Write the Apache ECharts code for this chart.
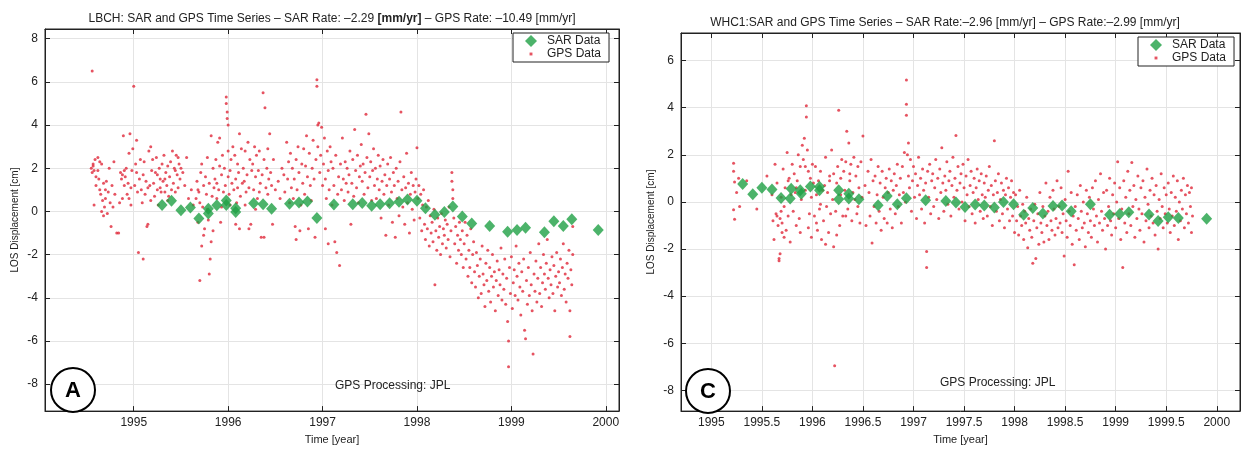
<!DOCTYPE html>
<html><head><meta charset="utf-8">
<script src="https://cdn.jsdelivr.net/npm/echarts@6/dist/echarts.min.js"></script>
<style>html,body{margin:0;padding:0;background:#fff}#c{width:1242px;height:450px}</style>
</head><body><div id="c"></div>
<script>
// ---- Panel A (LBCH) ----
const sarA = [[1995.30,0.30],[1995.40,0.49],[1995.50,0.05],[1995.60,0.18],[1995.69,-0.33],[1995.79,-0.10],[1995.79,0.12],[1995.88,0.29],[1995.98,0.50],[1995.98,0.30],[1996.08,0.15],[1996.08,-0.03],[1996.27,0.38],[1996.37,0.33],[1996.46,0.12],[1996.65,0.35],[1996.75,0.41],[1996.84,0.46],[1996.94,-0.30],[1997.12,0.32],[1997.32,0.33],[1997.42,0.39],[1997.52,0.26],[1997.61,0.33],[1997.71,0.38],[1997.81,0.45],[1997.90,0.55],[1998.00,0.49],[1998.09,0.15],[1998.19,-0.15],[1998.29,-0.03],[1998.38,0.23],[1998.48,-0.23],[1998.58,-0.56],[1998.77,-0.67],[1998.96,-0.94],[1999.06,-0.86],[1999.15,-0.76],[1999.35,-0.97],[1999.45,-0.45],[1999.55,-0.67],[1999.64,-0.36],[1999.92,-0.86]];
const gpsA = [[1994.56,6.5],[1994.55,2.0],[1994.56,1.8],[1994.57,2.2],[1994.58,1.9],[1994.59,2.4],[1994.6,1.6],[1994.58,0.3],[1994.6,1.2],[1994.57,2.1],
[1994.62,2.5],[1994.63,1.5],[1994.64,1.0],[1994.65,0.8],[1994.66,2.2],[1994.67,0.5],[1994.68,1.3],[1994.69,0.2],[1994.7,1.0],[1994.62,1.9],[1994.64,2.3],[1994.66,0.0],[1994.68,-0.2],[1994.7,0.6],
[1994.71,1.4],[1994.72,-0.1],[1994.73,0.9],[1994.74,2.0],[1994.75,0.4],[1994.76,-0.7],[1994.77,1.2],[1994.78,0.2],[1994.79,2.3],[1994.8,0.8],
[1994.82,-1.0],[1994.84,-1.0],[1994.85,0.4],[1994.86,1.8],[1994.87,1.5],[1994.88,1.7],[1994.89,3.5],[1994.9,1.9],[1994.9,1.2],[1994.88,0.6],
[1994.91,1.6],[1994.92,2.0],[1994.93,0.8],[1994.94,1.3],[1994.95,2.7],[1994.96,3.6],[1994.97,0.3],[1994.98,1.9],[1994.99,2.9],[1995.0,5.8],[1994.95,0.6],[1994.97,1.1],
[1995.01,1.2],[1995.02,2.2],[1995.03,3.3],[1995.04,0.9],[1995.05,-1.9],[1995.06,1.5],[1995.07,2.4],[1995.08,1.0],[1995.09,0.4],[1995.1,-2.2],[1995.1,1.7],[1995.03,1.8],
[1995.11,2.3],[1995.12,0.8],[1995.13,1.4],[1995.14,-0.7],[1995.15,-0.6],[1995.16,2.8],[1995.17,1.2],[1995.18,0.5],[1995.19,1.9],[1995.2,2.4],[1995.15,1.1],[1995.18,3.0],
[1995.21,1.3],[1995.22,0.7],[1995.23,1.8],[1995.24,2.5],[1995.25,1.0],[1995.26,0.3],[1995.27,2.0],[1995.28,1.5],[1995.29,0.9],[1995.3,2.2],[1995.25,1.7],[1995.28,1.1],
[1995.31,1.4],[1995.32,2.6],[1995.33,0.9],[1995.34,1.8],[1995.35,1.2],[1995.36,2.1],[1995.37,0.7],[1995.38,1.6],[1995.39,2.3],[1995.4,1.0],[1995.33,1.5],[1995.36,0.5],
[1995.41,2.8],[1995.42,1.3],[1995.43,2.0],[1995.44,0.9],[1995.45,2.6],[1995.46,1.7],[1995.47,1.1],[1995.48,2.2],[1995.49,1.5],[1995.5,2.0],[1995.44,1.9],[1995.47,2.5],
[1995.52,1.8],[1995.54,1.2],[1995.56,2.5],[1995.58,0.6],[1995.61,1.0],[1995.63,0.3],
[1995.66,0.6],[1995.67,1.4],[1995.68,-0.5],[1995.69,0.9],[1995.7,-3.2],[1995.71,1.8],[1995.72,-1.6],[1995.73,0.2],[1995.74,1.2],[1995.75,-0.8],[1995.7,0.4],[1995.72,2.2],[1995.68,1.0],[1995.74,-1.1],
[1995.76,1.6],[1995.77,0.8],[1995.78,2.5],[1995.79,-0.4],[1995.8,-2.9],[1995.8,1.3],[1995.81,-2.2],[1995.82,-1.4],[1995.83,0.7],[1995.84,2.0],[1995.85,1.1],[1995.78,0.1],[1995.82,3.5],[1995.84,-0.9],
[1995.86,1.5],[1995.87,2.4],[1995.88,0.6],[1995.89,3.2],[1995.9,1.0],[1995.91,2.1],[1995.92,-0.5],[1995.93,1.7],[1995.94,2.6],[1995.95,0.9],[1995.88,1.3],[1995.91,3.4],[1995.93,0.2],
[1995.98,5.3],[1995.98,5.0],[1995.99,4.6],[1995.99,4.3],[1996.0,4.0],[1995.96,2.0],[1995.97,1.2],[1996.0,2.8],[1996.01,0.8],[1996.02,1.9],[1996.03,2.4],[1996.04,1.3],[1996.05,3.0],[1996.02,0.3],[1996.0,1.6],
[1996.06,1.0],[1996.07,2.6],[1996.08,1.5],[1996.09,0.4],[1996.1,2.2],[1996.11,1.8],[1996.12,3.6],[1996.13,0.7],[1996.14,2.9],[1996.15,1.3],[1996.08,-0.6],[1996.12,-0.8],[1996.1,1.1],
[1996.16,2.0],[1996.17,1.4],[1996.18,2.8],[1996.19,0.9],[1996.2,1.7],[1996.21,3.2],[1996.22,1.1],[1996.23,2.4],[1996.24,-0.6],[1996.25,1.9],[1996.18,0.3],[1996.22,-0.8],
[1996.26,2.2],[1996.27,1.0],[1996.28,3.0],[1996.29,1.6],[1996.3,2.6],[1996.31,0.6],[1996.32,1.9],[1996.33,2.8],[1996.34,1.3],[1996.35,-1.2],[1996.29,0.1],[1996.33,0.9],
[1996.37,5.5],[1996.39,4.8],[1996.38,-1.2],[1996.36,1.7],[1996.38,2.4],[1996.4,1.1],[1996.41,2.0],[1996.42,0.8],[1996.43,1.5],[1996.44,3.6],[1996.45,1.8],[1996.46,1.2],[1996.47,-0.6],[1996.48,2.4],[1996.5,1.0],[1996.42,2.9],
[1996.53,1.4],[1996.55,0.6],[1996.57,2.0],[1996.59,1.7],[1996.6,0.9],[1996.62,3.2],[1996.63,1.5],[1996.64,2.3],[1996.65,0.4],
[1996.66,2.7],[1996.67,1.1],[1996.68,2.0],[1996.69,0.6],[1996.7,1.5],[1996.71,-0.7],[1996.72,2.4],[1996.73,1.0],[1996.74,3.0],[1996.75,1.8],[1996.76,-0.9],[1996.77,0.3],[1996.78,2.2],[1996.79,1.3],[1996.8,2.9],[1996.72,-1.3],
[1996.81,0.8],[1996.82,2.1],[1996.83,3.5],[1996.84,1.6],[1996.85,-0.8],[1996.86,2.7],[1996.87,1.2],[1996.88,0.5],[1996.89,2.0],[1996.9,3.3],[1996.91,1.5],[1996.92,-1.2],[1996.93,2.4],[1996.94,6.1],[1996.94,5.8],[1996.95,4.0],[1996.96,4.1],[1996.95,3.0],
[1996.97,1.8],[1996.98,2.6],[1996.99,3.9],[1997.0,1.2],[1997.01,2.2],[1997.02,3.4],[1997.03,1.5],[1997.04,0.6],[1997.05,2.8],[1997.06,1.9],[1997.07,1.0],[1997.08,3.0],[1997.09,2.3],[1997.1,0.3],[1997.03,-0.8],[1997.06,-1.5],
[1997.11,2.0],[1997.12,1.2],[1997.13,-1.4],[1997.14,2.6],[1997.15,-1.9],[1997.16,0.8],[1997.17,1.6],[1997.18,-2.5],[1997.19,2.2],[1997.2,1.0],[1997.21,3.4],[1997.22,1.5],[1997.23,0.5],[1997.24,2.3],[1997.25,1.3],
[1997.26,2.0],[1997.27,0.9],[1997.28,1.7],[1997.29,2.8],[1997.3,-0.6],[1997.31,1.3],[1997.32,2.4],[1997.33,0.7],[1997.34,3.8],[1997.35,1.9],[1997.36,1.1],[1997.37,2.6],[1997.38,0.4],[1997.39,1.6],[1997.4,2.1],
[1997.41,3.1],[1997.42,1.4],[1997.43,2.2],[1997.44,0.8],[1997.45,1.8],[1997.46,4.5],[1997.47,2.5],[1997.48,1.1],[1997.49,3.6],[1997.5,1.6],[1997.51,2.3],[1997.52,0.5],[1997.53,1.9],[1997.54,2.9],[1997.55,1.2],
[1997.56,2.0],[1997.57,0.6],[1997.58,1.5],[1997.59,2.6],[1997.6,1.0],[1997.61,2.1],[1997.62,-0.3],[1997.63,1.4],[1997.64,2.4],[1997.65,0.8],[1997.66,1.7],[1997.67,-1.1],[1997.68,1.2],[1997.69,2.2],[1997.7,0.3],
[1997.71,1.5],[1997.72,2.5],[1997.73,0.9],[1997.74,-0.5],[1997.75,1.8],[1997.76,1.2],[1997.77,-1.2],[1997.78,2.0],[1997.79,0.6],[1997.8,1.4],[1997.81,-0.2],[1997.82,2.3],[1997.83,4.6],[1997.84,1.0],[1997.85,0.2],
[1997.86,1.6],[1997.87,-0.6],[1997.88,1.1],[1997.89,2.7],[1997.9,0.4],[1997.91,1.3],[1997.92,-1.0],[1997.93,0.8],[1997.94,1.8],[1997.95,0.1],[1997.96,1.2],[1997.97,-0.4],[1997.98,0.9],[1997.99,1.5],[1998.0,2.95],
[1998.01,0.6],[1998.02,1.2],[1998.03,-0.3],[1998.04,0.8],[1998.05,-0.9],[1998.06,0.3],[1998.07,1.0],[1998.08,-0.6],[1998.09,-1.3],[1998.1,0.2],[1998.11,-0.8],[1998.12,0.5],[1998.13,-1.6],[1998.14,-0.2],[1998.15,-1.0],
[1998.16,-0.5],[1998.17,-1.4],[1998.18,0.1],[1998.19,-3.4],[1998.2,-0.9],[1998.21,-1.8],[1998.22,-0.3],[1998.23,-1.2],[1998.24,-0.7],[1998.25,-2.0],[1998.26,-0.1],[1998.27,-1.5],[1998.28,-0.8],[1998.29,-1.1],[1998.3,-0.4],
[1998.31,-1.7],[1998.32,-0.6],[1998.33,-1.3],[1998.34,0.2],[1998.35,-2.1],[1998.36,-0.9],[1998.37,1.8],[1998.37,1.4],[1998.38,1.0],[1998.38,0.6],[1998.39,-0.3],[1998.4,-1.5],[1998.41,-0.7],[1998.42,-2.4],[1998.43,-1.1],[1998.44,-1.8],[1998.45,-0.5],
[1998.46,-1.3],[1998.47,-2.0],[1998.48,-0.9],[1998.49,-2.6],[1998.5,-1.5],[1998.51,-0.5],[1998.52,-2.2],[1998.53,-1.1],[1998.54,-3.0],[1998.55,-1.8],[1998.56,-2.6],[1998.57,-0.8],[1998.58,-3.3],[1998.59,-2.0],[1998.6,-1.4],
[1998.61,-2.8],[1998.62,-3.5],[1998.63,-1.9],[1998.64,-2.5],[1998.65,-4.0],[1998.66,-3.0],[1998.67,-2.2],[1998.68,-3.8],[1998.69,-1.6],[1998.7,-2.9],[1998.71,-3.4],[1998.72,-4.4],[1998.73,-2.4],[1998.74,-3.2],[1998.75,-1.8],
[1998.76,-3.7],[1998.77,-2.6],[1998.78,-4.2],[1998.79,-3.0],[1998.8,-2.0],[1998.81,-3.5],[1998.82,-2.8],[1998.83,-4.6],[1998.84,-3.2],[1998.85,-2.3],[1998.86,-3.9],[1998.87,-2.7],[1998.88,-3.4],[1998.89,-1.7],[1998.9,-4.1],
[1998.91,-2.9],[1998.92,-3.6],[1998.93,-2.2],[1998.94,-4.3],[1998.95,-3.1],[1998.96,-5.1],[1998.97,-6.0],[1998.97,-7.2],[1998.98,-2.6],[1998.99,-3.8],[1999.0,-2.1],[1999.01,-4.5],[1999.02,-3.3],[1999.03,-2.7],[1999.04,-3.9],[1999.05,-1.6],
[1999.06,-3.0],[1999.07,-4.1],[1999.08,-2.4],[1999.09,-3.5],[1999.1,-4.8],[1999.11,-2.8],[1999.12,-3.7],[1999.13,-2.2],[1999.14,-5.5],[1999.15,-5.9],[1999.16,-3.2],[1999.17,-4.3],[1999.18,-2.6],[1999.19,-3.9],[1999.2,-1.9],
[1999.21,-3.4],[1999.22,-4.6],[1999.23,-6.6],[1999.24,-2.9],[1999.25,-3.7],[1999.26,-2.3],[1999.27,-4.2],[1999.28,-3.1],[1999.29,-1.5],[1999.3,-3.8],[1999.31,-2.6],[1999.32,-4.4],[1999.33,-3.3],[1999.34,-2.0],[1999.35,-2.9],
[1999.36,-3.6],[1999.37,-2.4],[1999.38,-1.3],[1999.39,-3.1],[1999.4,-4.0],[1999.41,-2.7],[1999.42,-3.4],[1999.43,-2.1],[1999.44,-3.8],[1999.45,-2.5],[1999.46,-4.6],[1999.47,-3.0],[1999.48,-1.9],[1999.49,-3.5],[1999.5,-2.8],
[1999.51,-3.3],[1999.52,-2.2],[1999.53,-3.9],[1999.54,-2.6],[1999.55,-1.5],[1999.56,-3.6],[1999.57,-2.9],[1999.58,-4.2],[1999.59,-2.4],[1999.6,-3.1],[1999.61,-1.8],[1999.62,-4.6],[1999.62,-5.8],[1999.63,-2.7],[1999.64,-3.4],[1999.65,-2.0],[1999.65,-0.7]];

// ---- Panel C (WHC1) ----
const sarC = [[1995.31,0.76],[1995.41,0.32],[1995.50,0.60],[1995.60,0.53],[1995.69,0.17],[1995.78,0.14],[1995.79,0.56],[1995.88,0.49],[1995.89,0.35],[1995.98,0.65],[1996.07,0.64],[1996.07,0.49],[1996.26,0.49],[1996.26,0.11],[1996.36,0.35],[1996.36,0.14],[1996.46,0.11],[1996.65,-0.14],[1996.74,0.25],[1996.84,-0.10],[1996.93,0.15],[1997.12,0.07],[1997.32,0.04],[1997.42,-0.03],[1997.51,-0.22],[1997.61,-0.11],[1997.70,-0.15],[1997.80,-0.24],[1997.89,0.0],[1997.99,-0.10],[1998.09,-0.54],[1998.18,-0.26],[1998.28,-0.49],[1998.38,-0.17],[1998.47,-0.15],[1998.56,-0.40],[1998.75,-0.10],[1998.94,-0.54],[1999.04,-0.51],[1999.13,-0.44],[1999.33,-0.53],[1999.42,-0.81],[1999.52,-0.65],[1999.62,-0.68],[1999.90,-0.72]];
const gpsC = [[1995.22,1.64],[1995.22,1.3],[1995.23,0.85],[1995.22,-0.33],[1995.23,-0.74],[1995.25,0.4],[1995.27,1.0],[1995.28,-0.2],[1995.35,0.9],[1995.45,-0.3],[1995.55,1.1],
[1995.6,0.3],[1995.61,-0.8],[1995.62,-1.6],[1995.63,1.6],[1995.64,-0.5],[1995.65,0.8],[1995.66,-1.0],[1995.67,-2.4],[1995.67,-2.5],[1995.68,-0.7],[1995.68,-2.2],[1995.69,0.2],[1995.7,-1.3],[1995.7,-0.9],[1995.65,-0.6],[1995.69,-0.4],
[1995.71,1.4],[1995.72,-0.2],[1995.73,0.6],[1995.74,-1.2],[1995.75,2.1],[1995.76,-0.6],[1995.77,1.0],[1995.78,-1.7],[1995.79,0.3],[1995.8,1.6],[1995.72,-1.5],[1995.76,0.9],
[1995.81,-0.4],[1995.82,1.2],[1995.83,0.4],[1995.84,-1.0],[1995.85,0.9],[1995.86,2.0],[1995.87,-0.7],[1995.88,1.5],[1995.89,0.1],[1995.9,2.4],[1995.84,0.6],[1995.88,-1.3],
[1995.91,1.8],[1995.92,2.7],[1995.93,0.5],[1995.94,4.08],[1995.94,3.6],[1995.95,2.2],[1995.96,1.3],[1995.97,-0.5],[1995.98,1.0],[1995.99,0.2],[1996.0,1.6],[1995.93,1.5],[1995.96,-1.1],[1995.99,-1.5],
[1996.01,0.8],[1996.02,-0.6],[1996.03,1.5],[1996.04,0.3],[1996.05,-1.2],[1996.06,0.9],[1996.07,-0.3],[1996.08,1.3],[1996.09,-1.6],[1996.1,0.5],[1996.04,-0.9],[1996.08,-0.1],
[1996.11,-0.8],[1996.12,0.7],[1996.13,1.9],[1996.14,-0.2],[1996.15,0.4],[1996.16,-1.3],[1996.17,1.1],[1996.18,-0.5],[1996.19,2.2],[1996.2,0.1],[1996.13,-1.8],[1996.17,0.9],
[1996.21,1.2],[1996.22,-6.95],[1996.23,-0.4],[1996.24,0.8],[1996.25,1.5],[1996.26,3.89],[1996.27,-1.0],[1996.28,0.3],[1996.29,1.8],[1996.3,-0.6],[1996.24,-1.4],[1996.28,1.0],[1996.21,-1.9],
[1996.31,1.3],[1996.32,0.5],[1996.33,1.7],[1996.34,3.0],[1996.35,-0.3],[1996.36,2.5],[1996.37,0.9],[1996.38,1.6],[1996.39,-0.8],[1996.4,0.4],[1996.33,-0.6],[1996.37,1.2],
[1996.41,1.9],[1996.42,0.1],[1996.43,1.1],[1996.44,-0.5],[1996.45,1.5],[1996.46,0.6],[1996.47,-0.9],[1996.48,1.7],[1996.49,0.2],[1996.5,2.8],[1996.45,-0.2],
[1996.52,0.7],[1996.53,-1.0],[1996.55,1.3],[1996.56,0.4],[1996.57,-0.6],[1996.58,1.8],[1996.59,-1.74],[1996.6,0.9],[1996.61,-0.2],[1996.62,1.1],[1996.63,-0.9],[1996.64,0.3],[1996.65,1.5],
[1996.66,-0.4],[1996.67,0.8],[1996.68,-1.2],[1996.69,1.3],[1996.7,0.2],[1996.71,-0.7],[1996.72,0.6],[1996.73,1.0],[1996.74,-0.9],[1996.75,0.4],[1996.76,1.4],[1996.77,-0.3],[1996.78,0.9],[1996.79,-1.1],[1996.8,0.5],
[1996.81,1.2],[1996.82,-0.5],[1996.83,0.7],[1996.84,1.6],[1996.85,-0.2],[1996.86,0.3],[1996.87,1.0],[1996.88,-0.9],[1996.89,1.5],[1996.9,0.4],[1996.91,2.1],[1996.92,0.0],[1996.93,5.18],[1996.93,4.15],[1996.93,3.68],[1996.94,2.0],[1996.95,2.5],[1996.95,1.1],
[1996.96,0.6],[1996.97,1.8],[1996.98,-0.4],[1996.99,0.9],[1997.0,1.5],[1997.01,0.2],[1997.02,1.2],[1997.03,-0.7],[1997.04,0.7],[1997.05,1.9],[1997.06,0.3],[1997.07,1.0],[1997.08,-0.3],[1997.09,1.4],[1997.1,0.5],
[1997.11,-0.9],[1997.12,0.8],[1997.13,-2.1],[1997.13,-2.78],[1997.14,1.3],[1997.15,0.2],[1997.16,1.6],[1997.17,-0.5],[1997.18,0.9],[1997.19,1.2],[1997.2,-0.2],[1997.21,0.6],[1997.22,1.8],[1997.23,0.1],[1997.24,1.0],[1997.25,-0.7],
[1997.26,1.4],[1997.27,0.4],[1997.28,2.3],[1997.29,0.8],[1997.3,-0.4],[1997.31,1.1],[1997.32,0.5],[1997.33,1.7],[1997.34,-0.1],[1997.35,0.9],[1997.36,1.3],[1997.37,-0.6],[1997.38,0.7],[1997.39,1.9],[1997.4,0.2],
[1997.41,1.0],[1997.42,2.82],[1997.43,0.5],[1997.44,1.5],[1997.45,-0.3],[1997.46,0.8],[1997.47,1.2],[1997.48,0.0],[1997.49,1.6],[1997.5,0.6],[1997.51,-0.8],[1997.52,1.1],[1997.53,0.3],[1997.54,1.8],[1997.55,-0.2],
[1997.56,0.7],[1997.57,1.3],[1997.58,-0.5],[1997.59,0.4],[1997.6,1.0],[1997.61,-0.9],[1997.62,0.6],[1997.63,1.4],[1997.64,0.1],[1997.65,0.9],[1997.66,-0.4],[1997.67,1.2],[1997.68,0.3],[1997.69,-0.7],[1997.7,0.8],
[1997.71,0.2],[1997.72,1.1],[1997.73,-0.6],[1997.74,0.5],[1997.75,1.5],[1997.76,-0.2],[1997.77,0.7],[1997.78,-1.0],[1997.79,0.3],[1997.8,2.6],[1997.81,0.9],[1997.82,-0.4],[1997.83,0.4],[1997.84,1.2],[1997.85,-0.8],
[1997.86,0.1],[1997.87,0.8],[1997.88,-0.5],[1997.89,0.5],[1997.9,-1.1],[1997.91,0.3],[1997.92,1.0],[1997.93,-0.3],[1997.94,0.6],[1997.95,-0.8],[1997.96,0.2],[1997.97,0.9],[1997.98,-0.6],[1997.99,0.4],[1998.0,-1.3],
[1998.01,0.3],[1998.02,-0.8],[1998.03,-0.2],[1998.04,-1.4],[1998.05,0.5],[1998.06,-0.6],[1998.07,-1.0],[1998.08,-0.1],[1998.09,-1.6],[1998.1,-0.4],[1998.11,-0.9],[1998.12,0.2],[1998.13,-1.95],[1998.14,-0.7],[1998.15,-1.2],
[1998.16,-0.3],[1998.17,-1.5],[1998.18,-2.6],[1998.19,-0.8],[1998.2,-0.1],[1998.21,-2.4],[1998.22,-1.1],[1998.23,-0.5],[1998.24,-1.8],[1998.25,0.4],[1998.26,-0.9],[1998.27,-1.3],[1998.28,-0.2],[1998.29,-1.7],[1998.3,-0.6],
[1998.31,0.8],[1998.32,-1.0],[1998.33,-0.4],[1998.34,-1.6],[1998.35,0.2],[1998.36,-0.8],[1998.37,-1.2],[1998.38,0.5],[1998.39,-0.3],[1998.4,-1.4],[1998.41,-0.7],[1998.42,0.9],[1998.43,-1.1],[1998.44,-0.2],[1998.45,-0.9],
[1998.46,0.6],[1998.47,-1.3],[1998.48,-0.5],[1998.49,-2.3],[1998.5,0.1],[1998.51,-0.8],[1998.52,-1.5],[1998.53,1.3],[1998.54,-0.4],[1998.55,-1.0],[1998.56,0.4],[1998.57,-1.8],[1998.58,-0.6],[1998.59,-2.67],[1998.6,-0.2],
[1998.61,-1.2],[1998.62,0.3],[1998.63,-0.7],[1998.64,-1.6],[1998.65,0.7],[1998.66,-0.4],[1998.67,-1.1],[1998.68,0.0],[1998.69,-0.9],[1998.7,-1.9],[1998.71,0.5],[1998.72,-0.5],[1998.73,-1.3],[1998.74,0.2],[1998.75,-0.8],
[1998.76,-1.5],[1998.77,0.6],[1998.78,-0.3],[1998.79,-1.0],[1998.8,0.9],[1998.81,-0.6],[1998.82,-1.7],[1998.83,0.1],[1998.84,-0.9],[1998.85,1.2],[1998.86,-0.4],[1998.87,-1.2],[1998.88,0.4],[1998.89,-0.7],[1998.9,-2.0],
[1998.91,0.5],[1998.92,-1.0],[1998.93,-0.2],[1998.94,1.0],[1998.95,-0.8],[1998.96,-1.4],[1998.97,0.3],[1998.98,-0.5],[1998.99,0.8],[1999.0,-1.1],[1999.01,0.0],[1999.02,1.7],[1999.03,-0.7],[1999.04,0.6],[1999.05,-1.6],
[1999.06,-0.3],[1999.07,-2.78],[1999.08,0.9],[1999.09,-0.9],[1999.1,0.2],[1999.11,-1.3],[1999.12,1.3],[1999.13,-0.5],[1999.14,0.5],[1999.15,-1.0],[1999.16,1.67],[1999.17,-0.2],[1999.18,0.7],[1999.19,-1.5],[1999.2,0.1],
[1999.21,-0.7],[1999.22,1.1],[1999.23,-0.3],[1999.24,-1.2],[1999.25,0.6],[1999.26,-0.5],[1999.27,0.9],[1999.28,-1.7],[1999.29,0.2],[1999.3,-0.8],[1999.31,1.4],[1999.32,-0.1],[1999.33,-1.1],[1999.34,0.5],[1999.35,-0.6],
[1999.36,1.0],[1999.37,-0.9],[1999.38,0.3],[1999.39,-1.4],[1999.4,0.7],[1999.41,-0.4],[1999.42,-2.0],[1999.43,0.1],[1999.44,-0.7],[1999.45,1.2],[1999.46,-0.2],[1999.47,-1.1],[1999.48,0.6],[1999.49,-0.5],[1999.5,0.3],
[1999.51,-0.9],[1999.52,0.8],[1999.53,-0.3],[1999.54,-1.3],[1999.55,0.4],[1999.56,-0.6],[1999.57,1.1],[1999.58,-1.0],[1999.59,0.2],[1999.6,-0.4],[1999.61,0.9],[1999.62,-1.6],[1999.63,0.0],[1999.64,-0.8],[1999.65,0.5],
[1999.66,-0.3],[1999.67,1.0],[1999.68,-1.1],[1999.69,0.3],[1999.7,-0.5],[1999.71,0.7],[1999.72,-0.9],[1999.73,0.4],[1999.74,-0.2],[1999.75,0.6],[1999.76,-0.6],[1999.75,-1.3]];

const titleA = 'LBCH: SAR and GPS Time Series – SAR Rate: –2.29 {b|[mm/yr]} – GPS Rate: –10.49 [mm/yr]';
const titleC = 'WHC1:SAR and GPS Time Series – SAR Rate:–2.96 [mm/yr] – GPS Rate:–2.99 [mm/yr]';
const xName = 'Time [year]';
const yName = 'LOS Displacement [cm]';
const noteText = 'GPS Processing: JPL';

const FONT = 'Liberation Sans';
const INK = '#222';
const SAR_COLOR = '#1fa045';
const GPS_COLOR = '#e0283a';
const gpsIcon = 'path://M0,0M10,10M3.8,3.8L6.2,3.8L6.2,6.2L3.8,6.2Z';

function xAxes(gi, min, max, splitNumber) {
  return [
    {gridIndex: gi, type: 'value', min, max, splitNumber, position: 'bottom',
     axisLine: {onZero: false, lineStyle: {color: INK}}, axisTick: {inside: true, length: 5, lineStyle: {color: INK}},
     axisLabel: {color: INK, fontSize: 12, fontFamily: FONT, showMinLabel: false, showMaxLabel: false, margin: 6,
       formatter: v => String(Math.round(v * 10) / 10)},
     splitLine: {show: true, lineStyle: {color: '#e4e4e4'}},
     name: xName, nameLocation: 'middle', nameGap: 22, nameTextStyle: {color: INK, fontSize: 11, fontFamily: FONT}},
    {gridIndex: gi, type: 'value', min, max, splitNumber, position: 'top',
     axisLine: {onZero: false, lineStyle: {color: INK}}, axisTick: {inside: true, length: 5, lineStyle: {color: INK}},
     axisLabel: {show: false}, splitLine: {show: false}}
  ];
}
function yAxes(gi, min, max, splitNumber) {
  return [
    {gridIndex: gi, type: 'value', min, max, splitNumber, position: 'left',
     axisLine: {show: true, onZero: false, lineStyle: {color: INK}}, axisTick: {show: true, inside: true, length: 5, lineStyle: {color: INK}},
     axisLabel: {color: INK, fontSize: 12, fontFamily: FONT, showMinLabel: false, showMaxLabel: false, margin: 7},
     splitLine: {show: true, lineStyle: {color: '#e4e4e4'}},
     name: yName, nameLocation: 'middle', nameGap: 25, nameRotate: 90, nameTextStyle: {color: INK, fontSize: 10, fontFamily: FONT}},
    {gridIndex: gi, type: 'value', min, max, splitNumber, position: 'right',
     axisLine: {show: true, onZero: false, lineStyle: {color: INK}}, axisTick: {show: true, inside: true, length: 5, lineStyle: {color: INK}},
     axisLabel: {show: false}, splitLine: {show: false}}
  ];
}
function legendAt(left, top) {
  return {left, top, orient: 'vertical', itemGap: 1, itemWidth: 12, itemHeight: 12,
    padding: [2, 8, 2, 12], borderColor: INK, borderWidth: 1, backgroundColor: '#fff',
    textStyle: {color: INK, fontSize: 12, fontFamily: FONT, padding: [0, 0, 0, 5]},
    selectedMode: false,
    data: [{name: 'SAR Data', icon: 'diamond'}, {name: 'GPS Data', icon: gpsIcon}]};
}

const chart = echarts.init(document.getElementById('c'), null, {renderer: 'canvas'});
chart.setOption({
  animation: false,
  textStyle: {fontFamily: FONT},
  title: [
    {text: titleA, left: 327, top: 8, textAlign: 'center',
     textStyle: {fontSize: 12, fontWeight: 'normal', color: INK, fontFamily: FONT, rich: {b: {fontWeight: 'bold', fontSize: 12, color: INK, fontFamily: FONT}}}},
    {text: titleC, left: 940, top: 12, textAlign: 'center',
     textStyle: {fontSize: 12, fontWeight: 'normal', color: INK, fontFamily: FONT}}
  ],
  grid: [
    {left: 45, top: 29, width: 574, height: 389, show: true, borderColor: INK, borderWidth: 1, backgroundColor: '#fff'},
    {left: 681, top: 33, width: 559, height: 385, show: true, borderColor: INK, borderWidth: 1, backgroundColor: '#fff'}
  ],
  xAxis: [...xAxes(0, 1994.06, 2000.14, 6), ...xAxes(1, 1994.7, 2000.23, 11)],
  yAxis: [...yAxes(0, -9.25, 8.45, 9), ...yAxes(1, -8.88, 7.17, 8)],
  legend: [legendAt(513, 33), legendAt(1138, 37)],
  series: [
    {name: 'GPS Data', type: 'scatter', xAxisIndex: 0, yAxisIndex: 0, data: gpsA, symbol: 'circle', symbolSize: 3, itemStyle: {color: GPS_COLOR}, z: 2, silent: true},
    {name: 'SAR Data', type: 'scatter', xAxisIndex: 0, yAxisIndex: 0, data: sarA, symbol: 'diamond', symbolSize: [11, 12], itemStyle: {color: SAR_COLOR}, z: 3, silent: true},
    {name: 'GPS Data', type: 'scatter', xAxisIndex: 2, yAxisIndex: 2, data: gpsC, symbol: 'circle', symbolSize: 3, itemStyle: {color: GPS_COLOR}, z: 2, silent: true},
    {name: 'SAR Data', type: 'scatter', xAxisIndex: 2, yAxisIndex: 2, data: sarC, symbol: 'diamond', symbolSize: [11, 12], itemStyle: {color: SAR_COLOR}, z: 3, silent: true}
  ],
  graphic: [
    {type: 'circle', shape: {cx: 73, cy: 390, r: 22}, style: {fill: '#fff', stroke: '#000', lineWidth: 2}, z: 100},
    {type: 'text', x: 73, y: 391, style: {text: 'A', fill: '#000', font: 'bold 22px "Liberation Sans"', align: 'center', verticalAlign: 'middle'}, z: 101},
    {type: 'circle', shape: {cx: 708, cy: 391, r: 22}, style: {fill: '#fff', stroke: '#000', lineWidth: 2}, z: 100},
    {type: 'text', x: 708, y: 392, style: {text: 'C', fill: '#000', font: 'bold 22px "Liberation Sans"', align: 'center', verticalAlign: 'middle'}, z: 101},
    {type: 'text', x: 335, y: 386, style: {text: noteText, fill: INK, font: '12px "Liberation Sans"', align: 'left', verticalAlign: 'middle'}, z: 100},
    {type: 'text', x: 940, y: 383, style: {text: noteText, fill: INK, font: '12px "Liberation Sans"', align: 'left', verticalAlign: 'middle'}, z: 100}
  ]
});
</script></body></html>
